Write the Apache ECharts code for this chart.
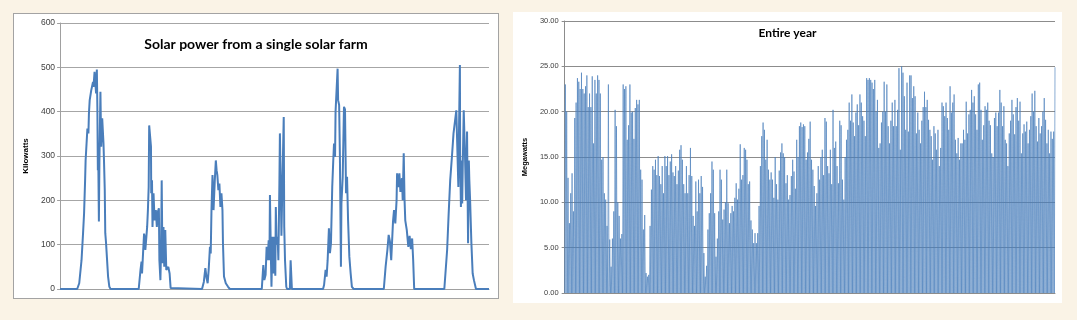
<!DOCTYPE html>
<html>
<head>
<meta charset="utf-8">
<script src="https://cdn.jsdelivr.net/npm/echarts@6/dist/echarts.min.js"></script>
<style>
  html, body { margin: 0; padding: 0; background: #faf3e6; }
  body { width: 1077px; height: 320px; position: relative; overflow: hidden; }
  .box { position: absolute; background: #fff; box-sizing: border-box; }
  #chart-week { left: 13px; top: 13px; width: 486px; height: 286px; border: 1px solid #a3a3a3; }
  #chart-year { left: 513px; top: 12px; width: 549px; height: 291px; }
</style>
</head>
<body>
<div class="box" id="chart-week"></div>
<div class="box" id="chart-year"></div>

<script>
// ---- one week, single farm: [hour, kW] ----
const day1 = [[6.7, 0], [7.5, 13], [8.4, 65], [9.0, 126], [9.4, 171], [9.8, 245], [10.0, 290], [10.7, 362], [11.1, 351],
  [11.3, 396], [11.6, 426], [12.2, 448], [12.9, 467], [13.1, 456], [13.5, 490], [13.9, 493], [14.1, 441], [14.4, 495],
  [14.6, 411], [14.8, 268], [14.9, 330], [15.2, 152], [15.4, 284], [15.8, 445], [16.1, 321], [16.5, 385], [17.0, 329],
  [17.2, 290], [17.5, 223], [17.7, 126], [18.0, 104], [18.5, 104], [18.8, 28], [19.3, 5], [19.8, 0]]
const day2 = [[30.8, 0], [31.5, 43], [31.9, 62], [32.1, 35], [32.5, 81], [32.9, 125], [33.1, 118], [33.4, 88], [34.1, 140],
  [34.4, 178], [34.7, 230], [34.9, 369], [35.3, 366], [35.6, 321], [35.7, 216], [36.0, 245], [36.2, 140], [36.6, 216],
  [37.0, 155], [37.5, 178], [37.9, 140], [38.3, 174], [38.7, 182], [38.9, 65], [39.3, 20], [39.6, 103], [39.8, 245],
  [40.1, 58], [40.5, 140], [40.8, 50], [41.2, 133], [41.6, 43], [42.4, 50], [42.9, 35], [43.3, 2], [43.7, 0]]
const day3 = [[55.6, 0], [56.3, 16], [56.9, 47], [57.4, 24], [57.8, 13], [58.2, 43], [58.7, 95], [59.0, 80], [59.3, 178],
  [59.7, 257], [60.1, 178], [60.6, 245], [61.0, 290], [61.3, 268], [61.6, 257], [62.0, 223], [62.4, 238], [62.8, 185],
  [63.2, 216], [63.6, 178], [63.8, 103], [64.2, 28], [64.9, 13], [65.8, 5], [66.5, 0]]
const day4 = [[79.0, 0], [79.6, 54], [80.0, 20], [80.5, 32], [80.9, 95], [81.3, 65], [81.7, 110], [82.0, 65], [82.2, 212],
  [82.6, 65], [82.8, 5], [83.2, 118], [83.5, 35], [83.9, 118], [84.3, 30], [84.5, 185], [84.8, 100], [85.2, 118],
  [85.5, 65], [85.9, 238], [86.1, 351], [86.5, 200], [86.7, 120], [87.0, 216], [87.6, 388], [87.8, 140], [88.1, 65],
  [88.6, 5], [88.9, 0], [90.0, 0], [90.3, 65], [90.8, 0]]
const day5 = [[103.0, 0], [103.4, 9], [104.0, 43], [104.4, 28], [104.8, 65], [105.3, 137], [105.7, 81], [106.1, 103],
  [106.6, 230], [107.0, 290], [107.3, 328], [107.7, 298], [107.9, 400], [108.7, 497], [108.9, 426], [109.3, 415],
  [109.6, 300], [110.0, 50], [110.2, 193], [110.7, 253], [111.2, 411], [111.6, 405], [112.0, 216], [112.4, 253],
  [112.8, 155], [113.3, 73], [113.8, 36], [114.3, 5], [115.0, 0]]
const day6 = [[126.8, 0], [127.5, 50], [128.2, 88], [128.7, 122], [129.2, 107], [129.7, 65], [130.4, 152], [130.8, 178],
  [131.3, 148], [131.8, 200], [132.0, 261], [132.4, 230], [132.9, 261], [133.3, 219], [133.9, 250], [134.2, 200],
  [134.6, 306], [134.9, 205], [135.2, 155], [135.8, 133], [136.4, 95], [136.9, 120], [137.4, 90], [137.9, 114],
  [138.3, 65], [138.7, 0]]
const day7 = [[150.5, 0], [151.6, 88], [152.2, 170], [152.8, 245], [153.5, 300], [154.1, 351], [155.2, 403], [155.7, 407],
  [156.0, 230], [156.3, 380], [156.6, 505], [156.7, 305], [157.0, 185], [157.2, 290], [157.5, 193], [157.7, 270],
  [158.1, 403], [158.6, 300], [159.0, 200], [159.4, 355], [159.8, 103], [160.1, 290], [160.3, 245], [160.6, 200],
  [161.1, 104], [161.6, 35], [162.1, 20], [162.9, 0]]
const weekHours = [0, 168]
const kwTicks = [0, 600, 100] // min, max, step

// ---- entire year: daily peak in MW, by month ----
const jan = [23, 20, 12.7, 7.7, 11, 13.2, 9, 19.3, 21, 23.7, 23.3, 22.5, 24.3, 22.5, 22, 22.8, 24, 20.5, 22, 20.5, 23.9, 16.5, 23.5, 22, 24, 23.5, 22, 14.7, 15, 11, 10.3]
const feb = [7.4, 23, 5.9, 2.9, 6, 9, 20.2, 18.4, 10, 8.5, 6, 6.5, 23, 22.5, 22.8, 16.9, 18.5, 23, 19.9, 20, 17, 20.4, 21.3, 20.8, 21.3, 13.6, 12.5, 7]
const mar = [8.6, 2.2, 1.8, 2, 7.4, 11.4, 14, 13.6, 14.7, 13, 15.1, 12.9, 12, 14, 11, 15.1, 14, 15.1, 13, 14.5, 15.3, 13.3, 12.9, 14, 12, 13.5, 15.8, 16.3, 14.7, 12, 11]
const apr = [14, 11, 13, 16, 12.9, 8.5, 7.4, 12.3, 9, 12.5, 11, 12.9, 11.7, 4.4, 1.8, 3, 7, 8.8, 11, 14.5, 13.6, 8.8, 4, 6, 9, 13.6, 12.5, 8.1, 9.2, 10]
const may = [13.6, 9.9, 7.7, 8.8, 9.6, 9, 10.5, 12.1, 10.3, 11.5, 16.4, 12.5, 13, 16, 15.8, 14.7, 12, 12.3, 8, 7, 5.5, 6.6, 5.5, 6.6, 9.6, 14, 17.3, 18.8, 18, 14.7, 16.9]
const jun = [13.6, 12.5, 13.3, 12.5, 10.5, 15, 12, 10.3, 13.5, 15.5, 16.5, 15.4, 15, 12.1, 13, 10.3, 10.8, 12.9, 14.7, 13.4, 11.5, 16.9, 15, 18.4, 18.8, 18.3, 18.6, 18.4, 14.7, 15.5]
const jul = [17, 18.9, 14.7, 13.6, 11.8, 9.6, 11, 14, 12.5, 15, 15.8, 13, 19.3, 18.9, 14, 13.2, 15.8, 12, 20.2, 16, 16.7, 14, 12.1, 19, 18.5, 12.5, 10.3, 15, 16.9, 18, 21]
const aug = [19, 21.9, 18.8, 17.3, 19.9, 20.8, 18.5, 21.9, 21, 19.5, 19, 17.3, 23.7, 23.5, 23.7, 23.5, 23.2, 22.5, 23.5, 20, 21.3, 16, 16.5, 18.8, 20, 23.3, 20, 23, 18.4, 16.5, 19]
const sep = [21, 18.4, 21.3, 18.4, 20.2, 24.8, 15.8, 25, 24.3, 21.7, 18, 23.2, 17.8, 24, 24, 21.5, 22.8, 21.7, 17.6, 19.9, 18, 16.5, 19, 20.5, 22.2, 20.5, 21.3, 19.1, 18, 17.3]
const oct = [14.7, 18.4, 17.6, 15.8, 18, 14, 16, 21, 20.6, 19.5, 21, 19.3, 18, 22.8, 19.9, 21, 21.9, 16.9, 15.4, 17.1, 14.7, 16.5, 16.5, 18, 16.9, 21.1, 17.6, 19.7, 20.2, 22.4, 21]
const nov = [21.7, 19.7, 18, 23, 23.2, 20.2, 16.9, 18.5, 20.6, 20.2, 21, 19, 18.5, 15.4, 15, 19.3, 19.9, 18.4, 19.9, 22.4, 21, 18.4, 20.6, 16.9, 16.5, 14, 17.6, 19, 21.3, 19.7]
const dec = [17.5, 20.5, 21.5, 19, 21.1, 15.4, 17.6, 18.6, 17.8, 18.9, 16.5, 18, 19.5, 22, 20, 22.3, 18.4, 16.7, 19.3, 17.6, 18.4, 20, 21.5, 19.1, 16.5, 18, 15.4, 17.8, 17, 17.8, 24.9]
const nightMW = 0
const mwTicks = [0, 30, 5]

const lineBlue = '#4a7ebb'
const tickFont = 'Liberation Sans, Arial, sans-serif'
const titleFont = 'Lato, Open Sans, sans-serif'

// week chart
const weekData = [[weekHours[0], 0]].concat(day1, day2, day3, day4, day5, day6, day7, [[weekHours[1], 0]])

const weekChart = echarts.init(document.getElementById('chart-week'))
weekChart.setOption({
  animation: false,
  title: {
    text: 'Solar power from a single solar farm',
    left: 'center',
    top: 18,
    textStyle: { fontFamily: titleFont, fontWeight: 'bold', fontSize: 14, color: '#000' }
  },
  grid: { left: 39, top: 9, right: 9, bottom: 9 },
  xAxis: {
    type: 'value',
    min: weekHours[0],
    max: weekHours[1],
    axisLabel: { show: false },
    axisTick: { show: false },
    splitLine: { show: false },
    axisLine: { lineStyle: { color: '#a0a0a0', width: 1 } }
  },
  yAxis: {
    type: 'value',
    min: kwTicks[0],
    max: kwTicks[1],
    interval: kwTicks[2],
    name: 'Kilowatts',
    nameLocation: 'middle',
    nameGap: 21,
    nameTextStyle: { fontFamily: tickFont, fontWeight: 'bold', fontSize: 8, color: '#000' },
    axisLine: { show: true, lineStyle: { color: '#a0a0a0' } },
    axisTick: { show: true, length: 3, lineStyle: { color: '#a0a0a0' } },
    axisLabel: { fontFamily: tickFont, fontSize: 8.5, color: '#404040', margin: 5 },
    splitLine: { lineStyle: { color: '#a6a6a6', width: 1 } }
  },
  series: [{
    type: 'line',
    data: weekData,
    showSymbol: false,
    lineStyle: { color: lineBlue, width: 2 },
    itemStyle: { color: lineBlue }
  }]
})

// year chart: each day goes from night (0) up to its peak
const yearPeaks = [].concat(jan, feb, mar, apr, may, jun, jul, aug, sep, oct, nov, dec)
const yearData = []
const yearCats = []
yearPeaks.forEach((p, i) => {
  yearData.push(nightMW, p)
  yearCats.push(i + 'n', i + 'd')
})

const yearChart = echarts.init(document.getElementById('chart-year'))
yearChart.setOption({
  animation: false,
  title: {
    text: 'Entire year',
    left: 'center',
    top: 10,
    textStyle: { fontFamily: titleFont, fontWeight: 'bold', fontSize: 12, color: '#000' }
  },
  grid: { left: 42, top: 9, right: 7, bottom: 10 },
  xAxis: {
    type: 'category',
    data: yearCats,
    boundaryGap: false,
    axisLabel: { show: false },
    axisTick: { show: false },
    splitLine: { show: false },
    axisLine: { lineStyle: { color: '#8c8c8c', width: 1 } }
  },
  yAxis: {
    type: 'value',
    min: mwTicks[0],
    max: mwTicks[1],
    interval: mwTicks[2],
    name: 'Megawatts',
    nameLocation: 'middle',
    nameGap: 24,
    nameTextStyle: { fontFamily: tickFont, fontWeight: 'bold', fontSize: 7.5, color: '#000' },
    axisLine: { show: true, lineStyle: { color: '#8c8c8c' } },
    axisTick: { show: true, length: 3, lineStyle: { color: '#8c8c8c' } },
    axisLabel: { fontFamily: tickFont, fontSize: 7.5, color: '#404040', margin: 6, formatter: v => v.toFixed(2) },
    splitLine: { lineStyle: { color: '#8c8c8c', width: 1 } }
  },
  series: [{
    type: 'line',
    data: yearData,
    showSymbol: false,
    lineStyle: { color: lineBlue, width: 0.9, opacity: 0.72 },
    itemStyle: { color: lineBlue }
  }]
})
</script>
</body>
</html>
